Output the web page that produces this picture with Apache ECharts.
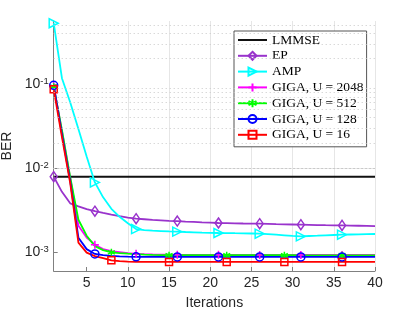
<!DOCTYPE html>
<html><head><meta charset="utf-8">
<script src="https://cdn.jsdelivr.net/npm/echarts@6/dist/echarts.min.js"></script>
<style>html,body{margin:0;padding:0;background:#fff}#c{width:415px;height:312px}</style>
</head><body><div id="c"></div>
<script>
const iterations = [1,2,3,4,5,6,7,8,9,10,11,12,13,14,15,16,17,18,19,20,21,22,23,24,25,26,27,28,29,30,31,32,33,34,35,36,37,38,39,40];
const lmmse = [7.93e-3,7.93e-3,7.93e-3,7.93e-3,7.93e-3,7.93e-3,7.93e-3,7.93e-3,7.93e-3,7.93e-3,7.93e-3,7.93e-3,7.93e-3,7.93e-3,7.93e-3,7.93e-3,7.93e-3,7.93e-3,7.93e-3,7.93e-3,7.93e-3,7.93e-3,7.93e-3,7.93e-3,7.93e-3,7.93e-3,7.93e-3,7.93e-3,7.93e-3,7.93e-3,7.93e-3,7.93e-3,7.93e-3,7.93e-3,7.93e-3,7.93e-3,7.93e-3,7.93e-3,7.93e-3,7.93e-3];
const ep = [7.93e-3,5.23e-3,3.82e-3,3.52e-3,3.26e-3,3.08e-3,2.94e-3,2.81e-3,2.69e-3,2.59e-3,2.51e-3,2.47e-3,2.43e-3,2.40e-3,2.37e-3,2.35e-3,2.32e-3,2.30e-3,2.27e-3,2.25e-3,2.23e-3,2.22e-3,2.21e-3,2.20e-3,2.195e-3,2.19e-3,2.18e-3,2.16e-3,2.15e-3,2.14e-3,2.13e-3,2.12e-3,2.11e-3,2.10e-3,2.095e-3,2.09e-3,2.08e-3,2.07e-3,2.06e-3,2.05e-3];
const amp = [0.527,0.117,0.0607,0.0291,0.01375,6.77e-3,4.50e-3,3.29e-3,2.64e-3,2.22e-3,1.89e-3,1.84e-3,1.81e-3,1.79e-3,1.77e-3,1.76e-3,1.744e-3,1.73e-3,1.716e-3,1.706e-3,1.697e-3,1.692e-3,1.687e-3,1.683e-3,1.674e-3,1.665e-3,1.642e-3,1.62e-3,1.594e-3,1.568e-3,1.547e-3,1.563e-3,1.576e-3,1.594e-3,1.607e-3,1.62e-3,1.628e-3,1.637e-3,1.646e-3,1.651e-3];
const giga2048 = [0.0939,0.02755,7.66e-3,2.07e-3,1.50e-3,1.233e-3,1.091e-3,1.033e-3,1.005e-3,0.978e-3,0.960e-3,0.950e-3,0.942e-3,0.937e-3,0.936e-3,0.935e-3,0.934e-3,0.934e-3,0.934e-3,0.933e-3,0.933e-3,0.933e-3,0.933e-3,0.932e-3,0.932e-3,0.932e-3,0.932e-3,0.932e-3,0.932e-3,0.931e-3,0.931e-3,0.931e-3,0.931e-3,0.931e-3,0.931e-3,0.931e-3,0.930e-3,0.930e-3,0.930e-3,0.930e-3];
const giga512 = [0.0927,0.02831,7.87e-3,2.44e-3,1.576e-3,1.184e-3,1.062e-3,1.000e-3,0.981e-3,0.965e-3,0.950e-3,0.939e-3,0.932e-3,0.928e-3,0.926e-3,0.925e-3,0.925e-3,0.924e-3,0.924e-3,0.924e-3,0.924e-3,0.924e-3,0.923e-3,0.923e-3,0.923e-3,0.923e-3,0.923e-3,0.923e-3,0.923e-3,0.923e-3,0.922e-3,0.922e-3,0.922e-3,0.922e-3,0.922e-3,0.922e-3,0.922e-3,0.922e-3,0.922e-3,0.922e-3];
const giga128 = [0.0965,0.0254,7.06e-3,1.493e-3,1.091e-3,0.957e-3,0.927e-3,0.907e-3,0.894e-3,0.887e-3,0.884e-3,0.883e-3,0.882e-3,0.882e-3,0.882e-3,0.882e-3,0.882e-3,0.882e-3,0.882e-3,0.882e-3,0.881e-3,0.881e-3,0.881e-3,0.881e-3,0.881e-3,0.881e-3,0.881e-3,0.881e-3,0.881e-3,0.881e-3,0.881e-3,0.881e-3,0.881e-3,0.881e-3,0.881e-3,0.881e-3,0.881e-3,0.881e-3,0.881e-3,0.881e-3];
const giga16 = [0.0866,0.02339,6.68e-3,1.302e-3,0.992e-3,0.902e-3,0.854e-3,0.804e-3,0.787e-3,0.776e-3,0.772e-3,0.771e-3,0.770e-3,0.770e-3,0.770e-3,0.770e-3,0.770e-3,0.770e-3,0.770e-3,0.770e-3,0.770e-3,0.770e-3,0.770e-3,0.770e-3,0.770e-3,0.770e-3,0.770e-3,0.770e-3,0.770e-3,0.770e-3,0.770e-3,0.770e-3,0.770e-3,0.770e-3,0.770e-3,0.770e-3,0.770e-3,0.770e-3,0.770e-3,0.770e-3];
const xTicks = [5,10,15,20,25,30,35,40];
const yTicks = [1e-3,1e-2,1e-1];
const yMinorGrid = [7e-4,8e-4,9e-4,2e-3,3e-3,4e-3,5e-3,6e-3,7e-3,8e-3,9e-3,2e-2,3e-2,4e-2,5e-2,6e-2,7e-2,8e-2,9e-2,0.2,0.3,0.4,0.5];
const xRange = [1, 40];
const yRange = [6e-4, 0.56];
const names = ['LMMSE','EP','AMP','GIGA, U = 2048','GIGA, U = 512','GIGA, U = 128','GIGA, U = 16'];

const axisColor = '#808080';
const textColor = '#262626';
const sans = 'Liberation Sans, Arial, sans-serif';

function build(vals, step) {
  return iterations.map((x, i) => (step && i % step === 0) ? [x, vals[i]] : {value: [x, vals[i]], symbol: 'none'});
}
function mk(name, vals, color, symbol, step, size, extra) {
  return Object.assign({
    name, type: 'line', data: build(vals, step), showAllSymbol: true,
    symbol: symbol, symbolSize: size, animation: false, silent: true,
    lineStyle: {color: color, width: 1.8},
    itemStyle: {color: 'rgba(255,255,255,0)', borderColor: color, borderWidth: 1.5}
  }, extra || {});
}
const plusPath = 'path://M0,-10L0,10M-10,0L10,0';
const starPath = 'path://M0,-10L0,10M-8.66,-5L8.66,5M-8.66,5L8.66,-5';

const chart = echarts.init(document.getElementById('c'), null, {renderer: 'canvas'});
chart.setOption({
  animation: false,
  backgroundColor: '#fff',
  textStyle: {fontFamily: sans},
  grid: {left: 53.7, right: 40, top: 21, bottom: 41, containLabel: false, outerBoundsMode: 'none'},
  xAxis: {
    type: 'value', min: xRange[0], max: xRange[1], splitNumber: 8,
    name: 'Iterations', nameLocation: 'middle', nameGap: 25,
    nameTextStyle: {fontSize: 14, color: textColor, fontFamily: sans},
    axisLine: {show: true, lineStyle: {color: axisColor, width: 1}},
    axisTick: {show: true, inside: true, length: 4, lineStyle: {color: axisColor}, customValues: xTicks},
    axisLabel: {fontSize: 14, color: textColor, margin: 5, fontFamily: sans, customValues: xTicks,
      formatter: v => xTicks.indexOf(v) >= 0 ? String(v) : ''},
    splitLine: {show: true, showMinLine: false, showMaxLine: true, lineStyle: {color: '#e6e6e6', width: 1}}
  },
  yAxis: {
    type: 'log', logBase: 10, min: yRange[0], max: yRange[1],
    name: 'BER', nameLocation: 'middle', nameGap: 35,
    nameTextStyle: {fontSize: 14, color: textColor, fontFamily: sans},
    axisLine: {show: true, lineStyle: {color: axisColor, width: 1}},
    axisTick: {show: true, inside: true, length: 4, lineStyle: {color: axisColor}, customValues: yTicks},
    axisLabel: {margin: 5, color: textColor, customValues: yTicks,
      formatter: v => {
        const e = Math.log10(v);
        const r = Math.round(e);
        if (Math.abs(e - r) > 1e-6) return '';
        return '{b|10}{e|' + r + '}';
      },
      rich: {
        b: {fontSize: 14, fontFamily: sans, color: textColor},
        e: {fontSize: 9.5, fontFamily: sans, color: textColor, padding: [0, 0, 5, 0]}
      }
    },
    splitLine: {show: true, showMinLine: false, showMaxLine: false, lineStyle: {color: '#e6e6e6', width: 1}}
  },
  legend: {
    orient: 'vertical', left: 234, top: 31, data: names,
    itemWidth: 29, itemHeight: 10, itemGap: 1.8,
    padding: [2, 3, 5, 3],
    backgroundColor: '#fff', borderColor: '#555', borderWidth: 1, borderRadius: 0,
    textStyle: {fontFamily: 'Liberation Serif, serif', fontSize: 13.5, color: '#000', lineHeight: 14},
    selectedMode: false
  },
  series: [
    {name: 'grid-minor', type: 'line', data: [], silent: true,
      markLine: {silent: true, symbol: ['none', 'none'], label: {show: false}, animation: false,
        lineStyle: {type: [1, 3], color: '#c8c8c8', width: 1},
        data: yMinorGrid.map(v => ({yAxis: v}))}},
    mk('LMMSE', lmmse, '#111111', 'circle', 0, 1, {
      lineStyle: {color: '#111', width: 2},
      itemStyle: {color: 'rgba(0,0,0,0)', borderColor: 'rgba(0,0,0,0)', borderWidth: 0}}),
    mk('EP', ep, '#9933cc', 'diamond', 5, [7, 10]),
    mk('AMP', amp, '#00ffff', 'triangle', 5, [9, 9], {symbolRotate: -90}),
    mk('GIGA, U = 2048', giga2048, '#ff00ff', plusPath, 5, 8),
    mk('GIGA, U = 512', giga512, '#00ff00', starPath, 7, 7),
    mk('GIGA, U = 128', giga128, '#0000ff', 'circle', 5, 8),
    mk('GIGA, U = 16', giga16, '#ff0000', 'rect', 7, 7)
  ]
});
</script></body></html>
